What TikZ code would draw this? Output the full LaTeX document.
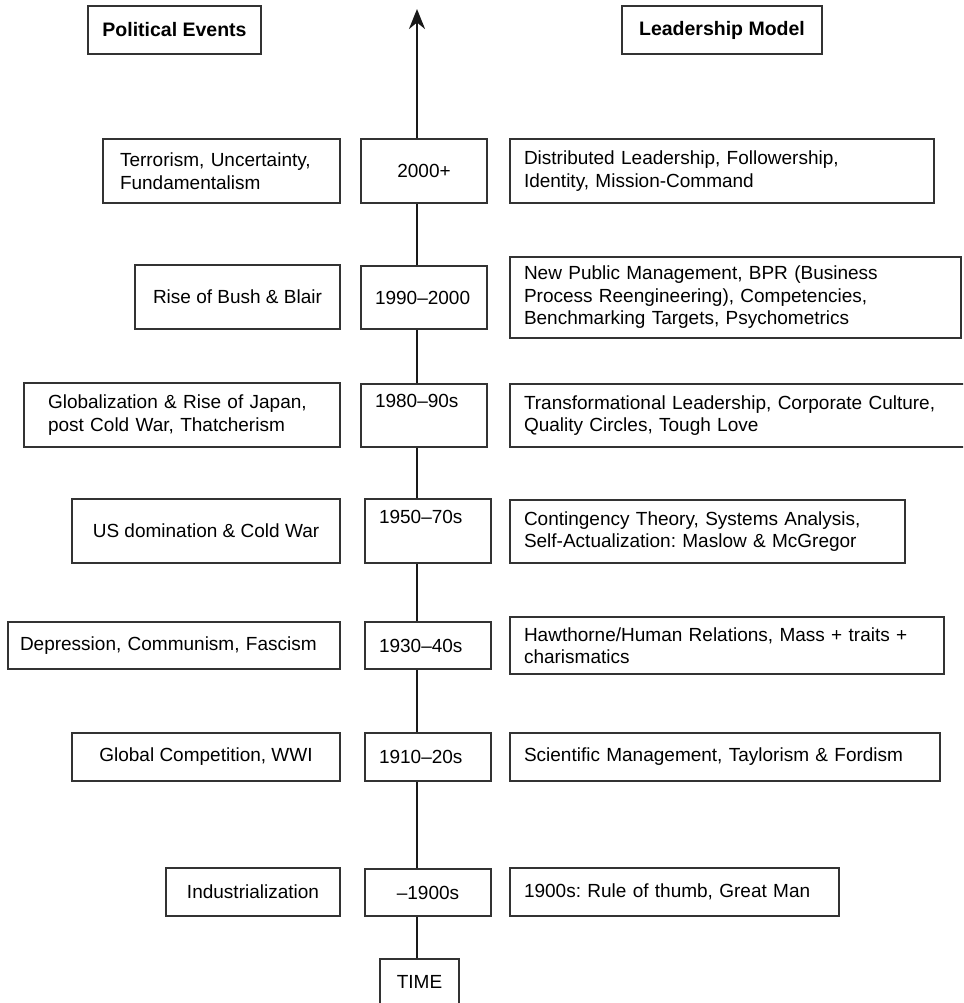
\documentclass[tikz,border=0pt]{standalone}
\usepackage{fontspec}
\setmainfont{Liberation Sans}
\usetikzlibrary{arrows.meta}
\newcommand\oneline[1]{\mbox{#1}}
\frenchspacing
\begin{document}
\begin{tikzpicture}[x=1pt,y=-1pt,
  bx/.style={draw=black!80, line width=1.1pt, fill=white, inner ysep=0pt,
    font=\fontsize{19}{22.5}\selectfont\frenchspacing},
  lft/.style={bx, align=left, inner xsep=#1},
  ctr/.style={bx, align=center, inner xsep=0pt},
  hdr/.style={ctr, font=\fontsize{19.5}{23}\selectfont\bfseries},
  spine/.style={line width=2.8pt, draw=black!90},
]
\clip (0,0) rectangle (963,1003);
\fill[white] (0,0) rectangle (963,1003);

% headers
\node[hdr, minimum width=173pt, minimum height=48pt] (hPE) at (174.5,30) {Political Events};
\node[hdr, minimum width=200pt, minimum height=48pt] (hLM) at (722,30) {Leadership Model};

% row 2000+
\node[lft=17pt, text width=203pt, minimum height=64pt] (lA) at (221.5,171)
  {\oneline{Terrorism, Uncertainty,}\\\oneline{Fundamentalism}};
\node[ctr, minimum width=126pt, minimum height=64pt] (mA) at (424,171) {2000+};
\node[lft=14pt, text width=396pt, minimum height=64pt] (rA) at (722,171)
  {\oneline{Distributed Leadership, Followership,}\\\oneline{Identity, Mission-Command}};

% row 1990-2000
\node[ctr, minimum width=205pt, minimum height=64pt] (lB) at (237.5,297) {Rise of Bush \& Blair};
\node[lft=14pt, text width=98pt, minimum height=63pt] (mB) at (424,297.5) {\oneline{1990–2000}};
\node[lft=14pt, text width=423pt, minimum height=81pt] (rB) at (735.5,297.5)
  {\oneline{New Public Management, BPR (Business}\\\oneline{Process Reengineering), Competencies,}\\\oneline{Benchmarking Targets, Psychometrics}};

% row 1980-90s
\node[lft=24pt, text width=268pt, minimum height=64pt] (lC) at (182,415)
  {\oneline{Globalization \& Rise of Japan,}\\\oneline{post Cold War, Thatcherism}};
\node[lft=14pt, text width=98pt, minimum height=63pt] (mC) at (424,415.5) {\oneline{1980–90s}\\\strut};
\node[lft=14pt, text width=432pt, minimum height=63pt] (rC) at (740,415.5)
  {\oneline{Transformational Leadership, Corporate Culture,}\\\oneline{Quality Circles, Tough Love}};

% row 1950-70s
\node[ctr, minimum width=268pt, minimum height=64pt] (lD) at (206,531) {US domination \& Cold War};
\node[lft=14pt, text width=98pt, minimum height=64pt] (mD) at (428,531) {\oneline{1950–70s}\\\strut};
\node[lft=14pt, text width=367pt, minimum height=63pt] (rD) at (707.5,531.5)
  {\oneline{Contingency Theory, Systems Analysis,}\\\oneline{Self-Actualization: Maslow \& McGregor}};

% row 1930-40s
\node[lft=12pt, text width=308pt, minimum height=47pt] (lE) at (174,645.5)
  {\oneline{Depression, Communism, Fascism}};
\node[lft=14pt, text width=98pt, minimum height=47pt] (mE) at (428,645.5) {\oneline{1930–40s}};
\node[lft=14pt, text width=406pt, minimum height=57pt] (rE) at (727,645.5)
  {\oneline{Hawthorne/Human Relations, Mass + traits +}\\\oneline{charismatics}};

% row 1910-20s
\node[ctr, minimum width=268pt, minimum height=48pt] (lF) at (206,757) {Global Competition, WWI};
\node[lft=14pt, text width=98pt, minimum height=48pt] (mF) at (428,757) {\oneline{1910–20s}};
\node[lft=14pt, text width=402pt, minimum height=48pt] (rF) at (725,757)
  {\oneline{Scientific Management, Taylorism \& Fordism}};

% row -1900s
\node[ctr, minimum width=174pt, minimum height=48pt] (lG) at (253,892) {Industrialization};
\node[ctr, minimum width=126pt, minimum height=47pt] (mG) at (428,892.5) {–1900s};
\node[lft=14pt, text width=301pt, minimum height=48pt] (rG) at (674.5,892)
  {\oneline{1900s: Rule of thumb, Great Man}};

% time
\node[ctr, minimum width=79pt, minimum height=46pt] (tm) at (419.5,982) {TIME};

% spine
\coordinate (tip) at (417,9);
\draw[spine] (tip |- tm.north) -- (tip |- mG.south);
\draw[spine] (tip |- mG.north) -- (tip |- mF.south);
\draw[spine] (tip |- mF.north) -- (tip |- mE.south);
\draw[spine] (tip |- mE.north) -- (tip |- mD.south);
\draw[spine] (tip |- mD.north) -- (tip |- mC.south);
\draw[spine] (tip |- mC.north) -- (tip |- mB.south);
\draw[spine] (tip |- mB.north) -- (tip |- mA.south);
\draw[spine, -{Stealth[length=20pt,width=16pt]}] (tip |- mA.north) -- (tip);
\end{tikzpicture}
\end{document}
